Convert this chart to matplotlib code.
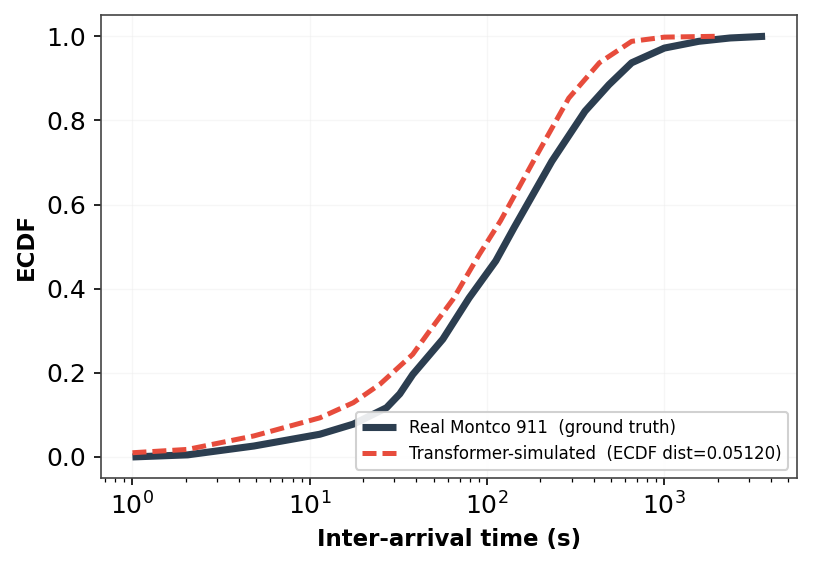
import numpy as np
import matplotlib
matplotlib.use("Agg")
import matplotlib.pyplot as plt

real_x = [1, 2.05, 4.84, 11.4, 17.6, 27.1, 32.2, 38.1, 56.3, 79.2, 112, 142, 232, 357, 487, 654, 1000, 1560, 2350, 3700]
real_y = [0.0, 0.005, 0.026, 0.054, 0.078, 0.117, 0.15, 0.196, 0.280, 0.378, 0.466, 0.545, 0.703, 0.822, 0.885, 0.937, 0.972, 0.988, 0.996, 1.0]

sim_x = [1, 2.05, 4.84, 11.4, 17.6, 24.9, 38.1, 47.3, 64.3, 90.3, 119, 187, 289, 430, 654, 1000, 1960]
sim_y = [0.010, 0.018, 0.050, 0.093, 0.129, 0.173, 0.244, 0.299, 0.375, 0.481, 0.561, 0.711, 0.853, 0.937, 0.988, 0.998, 1.0]

label_real = "Real Montco 911  (ground truth)"
label_sim = "Transformer-simulated  (ECDF dist=0.05120)"

fig = plt.figure(figsize=(813/150, 565/150), dpi=150)
ax = fig.add_axes([0.124, 0.154, 0.856, 0.819])

ax.plot(real_x, real_y, color="#2c3e50", lw=3.4, label=label_real, solid_capstyle="butt")
ax.plot(sim_x, sim_y, color="#e74c3c", lw=2.4, ls=(0, (2.8, 1.2)), label=label_sim)

ax.set_xscale("log")
ax.grid(True, color="#eeeeee", lw=0.6, alpha=0.5)
for s in ax.spines.values():
    s.set_color("#444444")
ax.tick_params(labelsize=12)
ax.set_xlabel("Inter-arrival time (s)", fontsize=11, fontweight="bold")
ax.set_ylabel("ECDF", fontsize=11, fontweight="bold")
ax.legend(loc="lower right", fontsize=8, framealpha=0.9)

fig.savefig("out.png", dpi=150)
